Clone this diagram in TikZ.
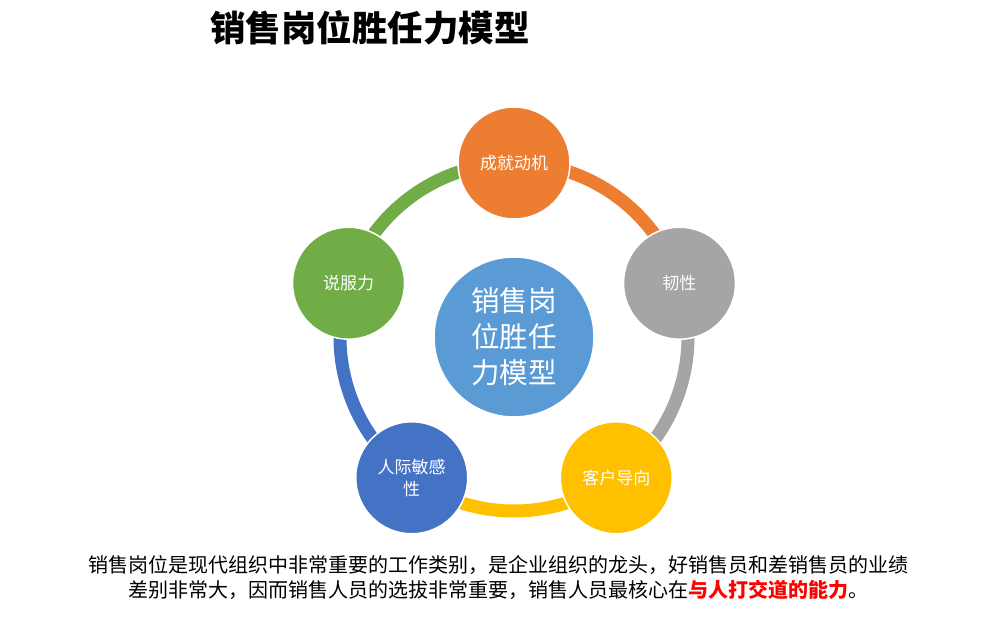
\documentclass[tikz,border=0pt]{standalone}
\usepackage{fontspec}
\newfontfamily\cjk{Noto Sans CJK SC}
\usetikzlibrary{calc}
\definecolor{cOrange}{HTML}{ED7D31}
\definecolor{cGray}{HTML}{A5A5A5}
\definecolor{cYellow}{HTML}{FFC000}
\definecolor{cBlue}{HTML}{4472C4}
\definecolor{cGreen}{HTML}{70AD47}
\definecolor{cCenter}{HTML}{5B9BD5}
\definecolor{cRed}{HTML}{FF0000}
\begin{document}
\begin{tikzpicture}[x=1pt,y=1pt,
  ringarc/.style={line width=13pt},
  ball/.style={circle, draw=white, line width=1.5pt, minimum size=112pt, inner sep=0pt,
    text=white, font=\cjk\fontsize{17}{22}\selectfont, align=center},
  hub/.style={circle, draw=white, line width=1.5pt, minimum size=160pt, inner sep=0pt,
    fill=cCenter, text=white, font=\cjk\fontsize{28.5}{36}\selectfont, align=center},
  titletext/.style={font=\cjk\bfseries\fontsize{35.5}{40}\selectfont, text=black},
  bodytext/.style={font=\cjk\fontsize{20}{25}\selectfont, text=black, align=center}
]
\useasboundingbox (0,0) rectangle (987,637);
\fill[white] (0,0) rectangle (987,637);
\coordinate (c) at (514,300);
\def\R{174}
% ring arcs
\draw[ringarc, cOrange] ($(c)+(90:\R)$) arc[start angle=90, end angle=18, radius=\R];
\draw[ringarc, cGray] ($(c)+(18:\R)$) arc[start angle=18, end angle=-54, radius=\R];
\draw[ringarc, cYellow] ($(c)+(-54:\R)$) arc[start angle=-54, end angle=-126, radius=\R];
\draw[ringarc, cBlue] ($(c)+(-126:\R)$) arc[start angle=-126, end angle=-198, radius=\R];
\draw[ringarc, cGreen] ($(c)+(162:\R)$) arc[start angle=162, end angle=90, radius=\R];
% circles
\node[ball, fill=cOrange] (n1) at ($(c)+(90:\R)$) {成就动机};
\node[ball, fill=cGray] (n2) at ($(c)+(18:\R)$) {韧性};
\node[ball, fill=cYellow] (n3) at ($(c)+(-54:\R)$) {客户导向};
\node[ball, fill=cBlue] (n4) at ($(c)+(-126:\R)$) {人际敏感\\性};
\node[ball, fill=cGreen] (n5) at ($(c)+(162:\R)$) {说服力};
\node[hub] (hub) at (c) {销售岗\\位胜任\\力模型};
% title
\node[titletext] (title) at (370,609) {销售岗位胜任力模型};
% body text
\node[bodytext] (body) at (498,59) {销售岗位是现代组织中非常重要的工作类别，是企业组织的龙头，好销售员和差销售员的业绩\\差别非常大，因而销售人员的选拔非常重要，销售人员最核心在{\bfseries\color{cRed}与人打交道的能力}。};
\end{tikzpicture}
\end{document}
